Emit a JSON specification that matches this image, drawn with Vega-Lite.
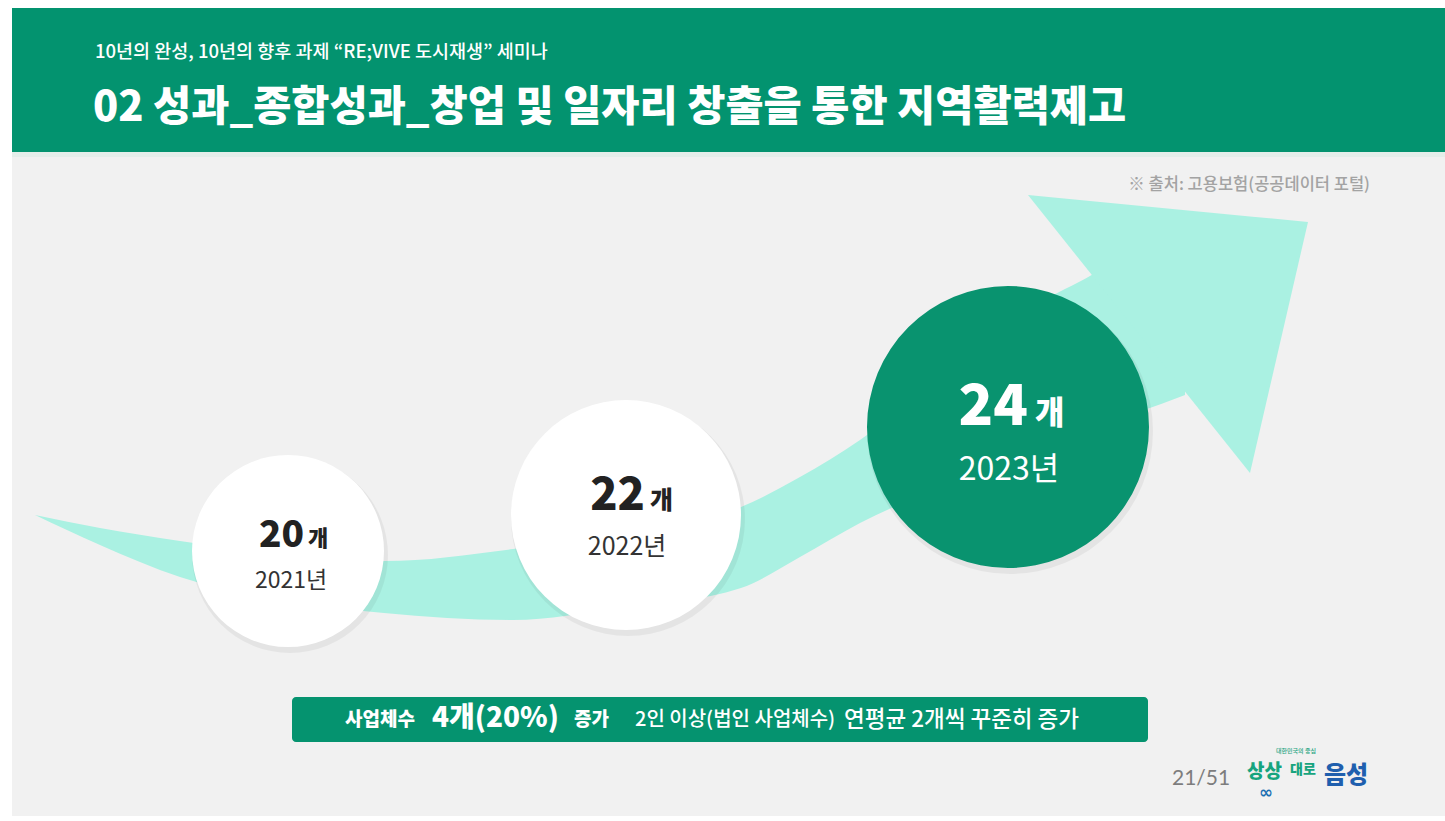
{
  "$schema": "https://vega.github.io/schema/vega-lite/v6.json",
  "width": 1445,
  "height": 821,
  "autosize": {"type": "none"},
  "padding": 0,
  "background": "#ffffff",
  "config": {
    "view": {"stroke": null},
    "axis": {"disable": true},
    "legend": {"disable": true},
    "text": {"font": "Noto Sans CJK KR"}
  },
  "datasets": {
    "counts": [
      {"year": 2021, "count": 20},
      {"year": 2022, "count": 22},
      {"year": 2023, "count": 24}
    ],
    "swooshBody": [
      {"sx": 35, "upper": 515, "lower": 515},
      {"sx": 100, "upper": 528, "lower": 545},
      {"sx": 180, "upper": 541, "lower": 577},
      {"sx": 260, "upper": 552, "lower": 597},
      {"sx": 384, "upper": 561, "lower": 613},
      {"sx": 513, "upper": 549, "lower": 620},
      {"sx": 620, "upper": 532, "lower": 608},
      {"sx": 741, "upper": 507, "lower": 588},
      {"sx": 800, "upper": 477, "lower": 557},
      {"sx": 860, "upper": 440, "lower": 523},
      {"sx": 920, "upper": 395, "lower": 495},
      {"sx": 980, "upper": 350, "lower": 467},
      {"sx": 1040, "upper": 303, "lower": 443},
      {"sx": 1090, "upper": 276, "lower": 423},
      {"sx": 1140, "upper": 245, "lower": 411},
      {"sx": 1185, "upper": 215, "lower": 395}
    ],
    "arrowHead": [
      {"hx": 1028, "top": 195, "bottom": 195},
      {"hx": 1250, "top": 216.4, "bottom": 473},
      {"hx": 1308, "top": 222, "bottom": 222}
    ]
  },
  "resolve": {"scale": {"x": "independent", "y": "independent", "size": "independent", "color": "independent"}},
  "layer": [
    {
      "layer": [
        {
          "data": {"values": [{}]},
          "mark": {"type": "rect", "color": "#f1f1f1"},
          "encoding": {
            "x": {"datum": 12, "type": "quantitative", "scale": {"domain": [0, 1445], "nice": false, "zero": false}},
            "x2": {"datum": 1445},
            "y": {"datum": 8, "type": "quantitative", "scale": {"domain": [0, 821], "reverse": true, "nice": false, "zero": false}},
            "y2": {"datum": 816}
          }
        },
        {
          "data": {"values": [{}]},
          "mark": {"type": "rect", "color": "#03936f"},
          "encoding": {
            "x": {"datum": 12, "type": "quantitative", "scale": {"domain": [0, 1445], "nice": false, "zero": false}},
            "x2": {"datum": 1445},
            "y": {"datum": 8, "type": "quantitative", "scale": {"domain": [0, 821], "reverse": true, "nice": false, "zero": false}},
            "y2": {"datum": 152}
          }
        },
        {
          "data": {"values": [{}]},
          "mark": {"type": "rect", "color": "#e4eeea"},
          "encoding": {
            "x": {"datum": 12, "type": "quantitative", "scale": {"domain": [0, 1445], "nice": false, "zero": false}},
            "x2": {"datum": 1445},
            "y": {"datum": 152, "type": "quantitative", "scale": {"domain": [0, 821], "reverse": true, "nice": false, "zero": false}},
            "y2": {"datum": 157}
          }
        },
        {
          "data": {"name": "swooshBody"},
          "mark": {"type": "area", "color": "#aaf1e2", "interpolate": "monotone", "opacity": 1},
          "encoding": {
            "x": {"field": "sx", "type": "quantitative", "scale": {"domain": [0, 1445], "nice": false, "zero": false}},
            "y": {"field": "upper", "type": "quantitative", "scale": {"domain": [0, 821], "reverse": true, "nice": false, "zero": false}},
            "y2": {"field": "lower"}
          }
        },
        {
          "data": {"name": "arrowHead"},
          "mark": {"type": "area", "color": "#aaf1e2", "interpolate": "linear", "opacity": 1},
          "encoding": {
            "x": {"field": "hx", "type": "quantitative", "scale": {"domain": [0, 1445], "nice": false, "zero": false}},
            "y": {"field": "top", "type": "quantitative", "scale": {"domain": [0, 821], "reverse": true, "nice": false, "zero": false}},
            "y2": {"field": "bottom"}
          }
        },
        {
          "data": {"values": [{}]},
          "mark": {"type": "text", "text": "10년의 완성, 10년의 향후 과제 “RE;VIVE 도시재생” 세미나", "align": "left", "baseline": "middle", "fontSize": 18.5, "fontWeight": 500, "color": "#ffffff"},
          "encoding": {
            "x": {"datum": 95, "type": "quantitative", "scale": {"domain": [0, 1445], "nice": false, "zero": false}},
            "y": {"datum": 52, "type": "quantitative", "scale": {"domain": [0, 821], "reverse": true, "nice": false, "zero": false}}
          }
        },
        {
          "data": {"values": [{}]},
          "mark": {"type": "text", "text": "02 성과_종합성과_창업 및 일자리 창출을 통한 지역활력제고", "align": "left", "baseline": "middle", "fontSize": 41.5, "fontWeight": 900, "color": "#ffffff"},
          "encoding": {
            "x": {"datum": 93, "type": "quantitative", "scale": {"domain": [0, 1445], "nice": false, "zero": false}},
            "y": {"datum": 109, "type": "quantitative", "scale": {"domain": [0, 821], "reverse": true, "nice": false, "zero": false}}
          }
        },
        {
          "data": {"values": [{}]},
          "mark": {"type": "text", "text": "※ 출처: 고용보험(공공데이터 포털)", "align": "right", "baseline": "middle", "fontSize": 16.5, "fontWeight": 500, "color": "#a3a3a3"},
          "encoding": {
            "x": {"datum": 1370, "type": "quantitative", "scale": {"domain": [0, 1445], "nice": false, "zero": false}},
            "y": {"datum": 185, "type": "quantitative", "scale": {"domain": [0, 821], "reverse": true, "nice": false, "zero": false}}
          }
        },
        {
          "data": {"values": [{}]},
          "mark": {"type": "rect", "color": "#05936f", "cornerRadius": 4},
          "encoding": {
            "x": {"datum": 292, "type": "quantitative", "scale": {"domain": [0, 1445], "nice": false, "zero": false}},
            "x2": {"datum": 1148},
            "y": {"datum": 697, "type": "quantitative", "scale": {"domain": [0, 821], "reverse": true, "nice": false, "zero": false}},
            "y2": {"datum": 742}
          }
        },
        {
          "data": {"values": [{}]},
          "mark": {"type": "text", "text": "사업체수", "align": "left", "baseline": "middle", "fontSize": 19, "fontWeight": 900, "color": "#ffffff"},
          "encoding": {
            "x": {"datum": 345, "type": "quantitative", "scale": {"domain": [0, 1445], "nice": false, "zero": false}},
            "y": {"datum": 720, "type": "quantitative", "scale": {"domain": [0, 821], "reverse": true, "nice": false, "zero": false}}
          }
        },
        {
          "data": {"values": [{}]},
          "mark": {"type": "text", "text": "4개(20%)", "align": "left", "baseline": "middle", "fontSize": 28, "fontWeight": 900, "color": "#ffffff"},
          "encoding": {
            "x": {"datum": 432, "type": "quantitative", "scale": {"domain": [0, 1445], "nice": false, "zero": false}},
            "y": {"datum": 719, "type": "quantitative", "scale": {"domain": [0, 821], "reverse": true, "nice": false, "zero": false}}
          }
        },
        {
          "data": {"values": [{}]},
          "mark": {"type": "text", "text": "증가", "align": "left", "baseline": "middle", "fontSize": 19, "fontWeight": 900, "color": "#ffffff"},
          "encoding": {
            "x": {"datum": 574, "type": "quantitative", "scale": {"domain": [0, 1445], "nice": false, "zero": false}},
            "y": {"datum": 720, "type": "quantitative", "scale": {"domain": [0, 821], "reverse": true, "nice": false, "zero": false}}
          }
        },
        {
          "data": {"values": [{}]},
          "mark": {"type": "text", "text": "2인 이상(법인 사업체수)", "align": "left", "baseline": "middle", "fontSize": 20, "fontWeight": 500, "color": "#ffffff"},
          "encoding": {
            "x": {"datum": 635, "type": "quantitative", "scale": {"domain": [0, 1445], "nice": false, "zero": false}},
            "y": {"datum": 720, "type": "quantitative", "scale": {"domain": [0, 821], "reverse": true, "nice": false, "zero": false}}
          }
        },
        {
          "data": {"values": [{}]},
          "mark": {"type": "text", "text": "연평균 2개씩 꾸준히 증가", "align": "left", "baseline": "middle", "fontSize": 22.5, "fontWeight": 500, "color": "#ffffff"},
          "encoding": {
            "x": {"datum": 844, "type": "quantitative", "scale": {"domain": [0, 1445], "nice": false, "zero": false}},
            "y": {"datum": 720, "type": "quantitative", "scale": {"domain": [0, 821], "reverse": true, "nice": false, "zero": false}}
          }
        },
        {
          "data": {"values": [{}]},
          "mark": {"type": "text", "text": "21/51", "align": "left", "baseline": "middle", "fontSize": 21, "fontWeight": 400, "font": "Lato", "color": "#7d7d7d"},
          "encoding": {
            "x": {"datum": 1172, "type": "quantitative", "scale": {"domain": [0, 1445], "nice": false, "zero": false}},
            "y": {"datum": 779, "type": "quantitative", "scale": {"domain": [0, 821], "reverse": true, "nice": false, "zero": false}}
          }
        },
        {
          "data": {"values": [{}]},
          "mark": {"type": "text", "text": "대한민국의 중심", "align": "left", "baseline": "middle", "fontSize": 6, "fontWeight": 500, "color": "#1aa37e"},
          "encoding": {
            "x": {"datum": 1276, "type": "quantitative", "scale": {"domain": [0, 1445], "nice": false, "zero": false}},
            "y": {"datum": 751, "type": "quantitative", "scale": {"domain": [0, 821], "reverse": true, "nice": false, "zero": false}}
          }
        },
        {
          "data": {"values": [{}]},
          "mark": {"type": "text", "text": "상상", "align": "left", "baseline": "middle", "fontSize": 19, "fontWeight": 900, "color": "#17a47e"},
          "encoding": {
            "x": {"datum": 1247, "type": "quantitative", "scale": {"domain": [0, 1445], "nice": false, "zero": false}},
            "y": {"datum": 772, "type": "quantitative", "scale": {"domain": [0, 821], "reverse": true, "nice": false, "zero": false}}
          }
        },
        {
          "data": {"values": [{}]},
          "mark": {"type": "text", "text": "대로", "align": "left", "baseline": "middle", "fontSize": 14, "fontWeight": 900, "color": "#17a47e"},
          "encoding": {
            "x": {"datum": 1290, "type": "quantitative", "scale": {"domain": [0, 1445], "nice": false, "zero": false}},
            "y": {"datum": 770, "type": "quantitative", "scale": {"domain": [0, 821], "reverse": true, "nice": false, "zero": false}}
          }
        },
        {
          "data": {"values": [{}]},
          "mark": {"type": "text", "text": "음성", "align": "left", "baseline": "middle", "fontSize": 24, "fontWeight": 900, "color": "#1f5fae"},
          "encoding": {
            "x": {"datum": 1324, "type": "quantitative", "scale": {"domain": [0, 1445], "nice": false, "zero": false}},
            "y": {"datum": 776, "type": "quantitative", "scale": {"domain": [0, 821], "reverse": true, "nice": false, "zero": false}}
          }
        },
        {
          "data": {"values": [{}]},
          "mark": {"type": "text", "text": "∞", "align": "center", "baseline": "middle", "fontSize": 17, "fontWeight": 900, "font": "DejaVu Sans", "color": "#1b6fb2"},
          "encoding": {
            "x": {"datum": 1266, "type": "quantitative", "scale": {"domain": [0, 1445], "nice": false, "zero": false}},
            "y": {"datum": 793, "type": "quantitative", "scale": {"domain": [0, 821], "reverse": true, "nice": false, "zero": false}}
          }
        }
      ]
    },
    {
      "data": {"name": "counts"},
      "mark": {"type": "point", "filled": true, "shape": "circle", "color": "#000000", "opacity": 0.05, "strokeWidth": 0},
      "encoding": {
        "x": {"field": "year", "type": "quantitative", "scale": {"domain": [2021, 2022, 2023], "range": [290, 628, 1010], "nice": false, "zero": false}},
        "y": {"field": "count", "type": "quantitative", "scale": {"domain": [20, 22, 24], "range": [555, 519, 431], "nice": false, "zero": false}},
        "size": {"field": "count", "type": "quantitative", "scale": {"domain": [20, 22, 24], "range": [38416, 54756, 81796], "zero": false}}
      }
    },
    {
      "data": {"name": "counts"},
      "mark": {"type": "point", "filled": true, "shape": "circle", "opacity": 1, "strokeWidth": 0},
      "encoding": {
        "x": {"field": "year", "type": "quantitative", "scale": {"domain": [2021, 2022, 2023], "range": [288, 626, 1008], "nice": false, "zero": false}},
        "y": {"field": "count", "type": "quantitative", "scale": {"domain": [20, 22, 24], "range": [551, 515, 427], "nice": false, "zero": false}},
        "size": {"field": "count", "type": "quantitative", "scale": {"domain": [20, 22, 24], "range": [36864, 52900, 79524], "zero": false}},
        "color": {"field": "year", "type": "nominal", "scale": {"domain": [2021, 2022, 2023], "range": ["#ffffff", "#ffffff", "#09936f"]}}
      }
    },
    {
      "data": {"name": "counts"},
      "mark": {"type": "text", "align": "right", "baseline": "alphabetic", "fontWeight": 900},
      "encoding": {
        "x": {"field": "year", "type": "quantitative", "scale": {"domain": [2021, 2022, 2023], "range": [304, 645, 1028], "nice": false, "zero": false}},
        "y": {"field": "count", "type": "quantitative", "scale": {"domain": [20, 22, 24], "range": [547, 510, 425], "nice": false, "zero": false}},
        "text": {"field": "count", "type": "quantitative"},
        "size": {"field": "count", "type": "quantitative", "scale": {"domain": [20, 22, 24], "range": [37, 45, 57], "zero": false}},
        "color": {"field": "year", "type": "nominal", "scale": {"domain": [2021, 2022, 2023], "range": ["#222222", "#222222", "#ffffff"]}}
      }
    },
    {
      "data": {"name": "counts"},
      "mark": {"type": "text", "align": "left", "baseline": "alphabetic", "fontWeight": 900, "text": "개"},
      "encoding": {
        "x": {"field": "year", "type": "quantitative", "scale": {"domain": [2021, 2022, 2023], "range": [308, 650, 1035], "nice": false, "zero": false}},
        "y": {"field": "count", "type": "quantitative", "scale": {"domain": [20, 22, 24], "range": [546, 509, 424], "nice": false, "zero": false}},
        "size": {"field": "count", "type": "quantitative", "scale": {"domain": [20, 22, 24], "range": [22, 25, 32], "zero": false}},
        "color": {"field": "year", "type": "nominal", "scale": {"domain": [2021, 2022, 2023], "range": ["#222222", "#222222", "#ffffff"]}}
      }
    },
    {
      "data": {"name": "counts"},
      "transform": [{"calculate": "toString(datum.year) + '년'", "as": "yearLabel"}],
      "mark": {"type": "text", "align": "center", "baseline": "alphabetic", "fontWeight": 400},
      "encoding": {
        "x": {"field": "year", "type": "quantitative", "scale": {"domain": [2021, 2022, 2023], "range": [291, 627, 1009], "nice": false, "zero": false}},
        "y": {"field": "count", "type": "quantitative", "scale": {"domain": [20, 22, 24], "range": [588, 555, 480], "nice": false, "zero": false}},
        "text": {"field": "yearLabel", "type": "nominal"},
        "size": {"field": "count", "type": "quantitative", "scale": {"domain": [20, 22, 24], "range": [23, 25, 32], "zero": false}},
        "color": {"field": "year", "type": "nominal", "scale": {"domain": [2021, 2022, 2023], "range": ["#333333", "#333333", "#ffffff"]}}
      }
    }
  ]
}
